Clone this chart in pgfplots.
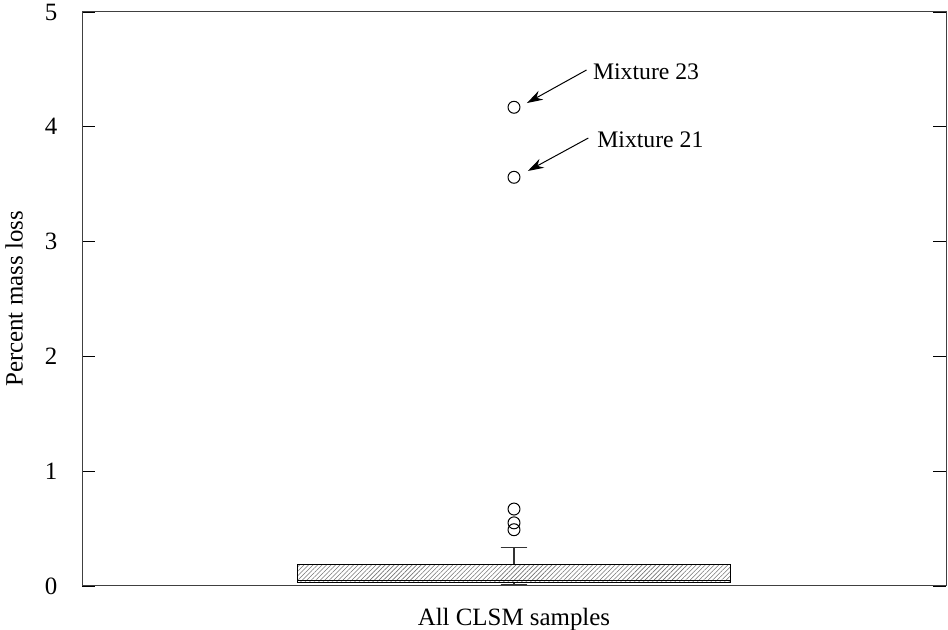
\documentclass[border=0pt]{standalone}
\usepackage{fontspec}
\setmainfont{Liberation Serif}
\usepackage{pgfplots}
\pgfplotsset{compat=1.18}
\usepgfplotslibrary{statistics}
\usetikzlibrary{patterns,patterns.meta,arrows.meta}
\begin{document}
\fontsize{12.5}{15}\selectfont
\begin{tikzpicture}
\begin{axis}[
  scale only axis,
  width=432bp, height=287bp,
  xmin=0, xmax=1, ymin=0, ymax=5,
  xtick=\empty,
  ytick={0,1,2,3,4,5},
  tick align=inside,
  ytick pos=both,
  yticklabel pos=left,
  major tick length=6.5bp,
  major tick style={line width=0.6pt, black},
  yticklabel style={xshift=-8bp},
  /pgf/number format/assume math mode=true,
  ylabel={Percent mass loss},
  xlabel={All CLSM samples},
  xlabel style={yshift=-7pt},
  ylabel style={yshift=2.5pt},
  axis line style={line width=0.5pt, black!75},
  clip=false,
]
\addplot+[
  black, line width=0.5pt,
  boxplot/draw direction=y,
  boxplot prepared={
    draw position=0.5,
    lower whisker=0.012,
    lower quartile=0.026,
    median=0.046,
    upper quartile=0.19,
    upper whisker=0.334,
    box extend=0.502,
    whisker extend=0.031,
  },
  pattern={Lines[angle=45,distance=1.6pt,line width=0.3pt]},
  pattern color=black!55,
  boxplot/every median/.style={line width=0.8pt, black},
  boxplot/every whisker/.style={black!80, line width=0.6pt},
] coordinates {};
\addplot[only marks, mark=o, mark size=3pt, black, mark options={line width=0.5pt}] coordinates {
  (0.5,0.67) (0.5,0.55) (0.5,0.49) (0.5,3.56) (0.5,4.17)
};
\draw[-{Stealth[length=8pt,width=5pt]}, line width=0.5pt] (axis cs:0.584,4.495) -- (axis cs:0.515,4.207);
\node[anchor=west, inner sep=0pt, font=\fontsize{11.9}{14}\selectfont] at (axis cs:0.591,4.477) {Mixture 23};
\draw[-{Stealth[length=8pt,width=5pt]}, line width=0.5pt] (axis cs:0.586,3.902) -- (axis cs:0.516,3.615);
\node[anchor=west, inner sep=0pt, font=\fontsize{11.9}{14}\selectfont] at (axis cs:0.596,3.885) {Mixture 21};
\end{axis}
\pgfresetboundingbox
\useasboundingbox ([shift={(-41bp,-22bp)}]current axis.south west) rectangle ([shift={(1bp,6bp)}]current axis.north east);
\end{tikzpicture}
\end{document}
